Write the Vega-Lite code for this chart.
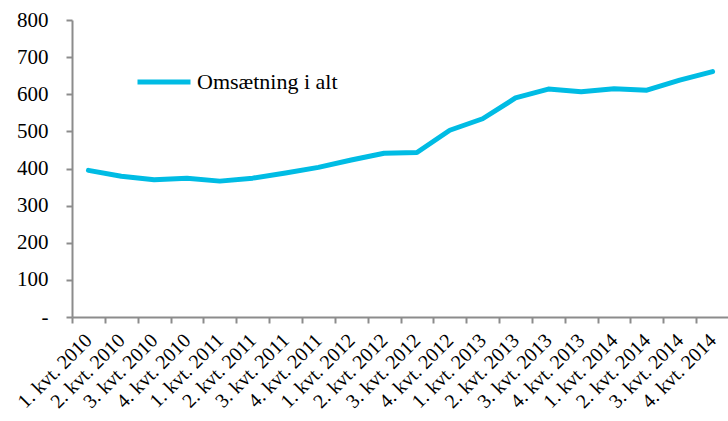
{
  "$schema": "https://vega.github.io/schema/vega-lite/v6.json",
  "width": 657,
  "height": 297,
  "autosize": {"type": "none"},
  "padding": {"left": 72, "top": 20, "right": 0, "bottom": 104},
  "background": "white",
  "config": {
    "view": {"stroke": null},
    "font": "Liberation Serif"
  },
  "data": {
    "values": [
      {"kvartal": "1. kvt. 2010", "serie": "Omsætning i alt", "værdi": 395},
      {"kvartal": "2. kvt. 2010", "serie": "Omsætning i alt", "værdi": 379},
      {"kvartal": "3. kvt. 2010", "serie": "Omsætning i alt", "værdi": 370},
      {"kvartal": "4. kvt. 2010", "serie": "Omsætning i alt", "værdi": 374},
      {"kvartal": "1. kvt. 2011", "serie": "Omsætning i alt", "værdi": 366},
      {"kvartal": "2. kvt. 2011", "serie": "Omsætning i alt", "værdi": 374},
      {"kvartal": "3. kvt. 2011", "serie": "Omsætning i alt", "værdi": 388},
      {"kvartal": "4. kvt. 2011", "serie": "Omsætning i alt", "værdi": 403},
      {"kvartal": "1. kvt. 2012", "serie": "Omsætning i alt", "værdi": 423},
      {"kvartal": "2. kvt. 2012", "serie": "Omsætning i alt", "værdi": 441},
      {"kvartal": "3. kvt. 2012", "serie": "Omsætning i alt", "værdi": 443},
      {"kvartal": "4. kvt. 2012", "serie": "Omsætning i alt", "værdi": 503},
      {"kvartal": "1. kvt. 2013", "serie": "Omsætning i alt", "værdi": 534},
      {"kvartal": "2. kvt. 2013", "serie": "Omsætning i alt", "værdi": 590},
      {"kvartal": "3. kvt. 2013", "serie": "Omsætning i alt", "værdi": 614},
      {"kvartal": "4. kvt. 2013", "serie": "Omsætning i alt", "værdi": 607},
      {"kvartal": "1. kvt. 2014", "serie": "Omsætning i alt", "værdi": 615},
      {"kvartal": "2. kvt. 2014", "serie": "Omsætning i alt", "værdi": 611},
      {"kvartal": "3. kvt. 2014", "serie": "Omsætning i alt", "værdi": 638},
      {"kvartal": "4. kvt. 2014", "serie": "Omsætning i alt", "værdi": 661}
    ]
  },
  "mark": {"type": "line", "strokeWidth": 5, "strokeCap": "round", "strokeJoin": "round"},
  "encoding": {
    "x": {
      "field": "kvartal",
      "type": "ordinal",
      "sort": null,
      "title": null,
      "scale": {"type": "band", "paddingInner": 0, "paddingOuter": 0},
      "axis": {
        "labelAngle": -45,
        "labelAlign": "right",
        "labelBaseline": "middle",
        "labelFont": "Liberation Serif",
        "labelFontSize": 20,
        "labelColor": "black",
        "labelPadding": 14,
        "labelLimit": 0,
        "domainColor": "#8c8c8c",
        "domainWidth": 2,
        "tickColor": "#8c8c8c",
        "tickWidth": 2,
        "tickSize": 6,
        "tickBand": "extent",
        "grid": false
      }
    },
    "y": {
      "field": "værdi",
      "type": "quantitative",
      "title": null,
      "scale": {"domain": [0, 800], "nice": false},
      "axis": {
        "values": [0, 100, 200, 300, 400, 500, 600, 700, 800],
        "labelExpr": "datum.value == 0 ? '-' : datum.label",
        "labelFont": "Liberation Serif",
        "labelFontSize": 21,
        "labelColor": "black",
        "labelPadding": 18,
        "domainColor": "#8c8c8c",
        "domainWidth": 2,
        "tickColor": "#8c8c8c",
        "tickWidth": 2,
        "tickSize": 6,
        "grid": false
      }
    },
    "color": {
      "field": "serie",
      "type": "nominal",
      "scale": {"range": ["#00BCE4"]},
      "legend": {
        "title": null,
        "orient": "none",
        "legendX": 63,
        "legendY": 33,
        "padding": 0,
        "symbolType": "stroke",
        "symbolSize": 2809,
        "symbolStrokeWidth": 5,
        "labelFont": "Liberation Serif",
        "labelFontSize": 22,
        "labelColor": "black",
        "labelOffset": 4,
        "labelLimit": 0
      }
    }
  }
}
